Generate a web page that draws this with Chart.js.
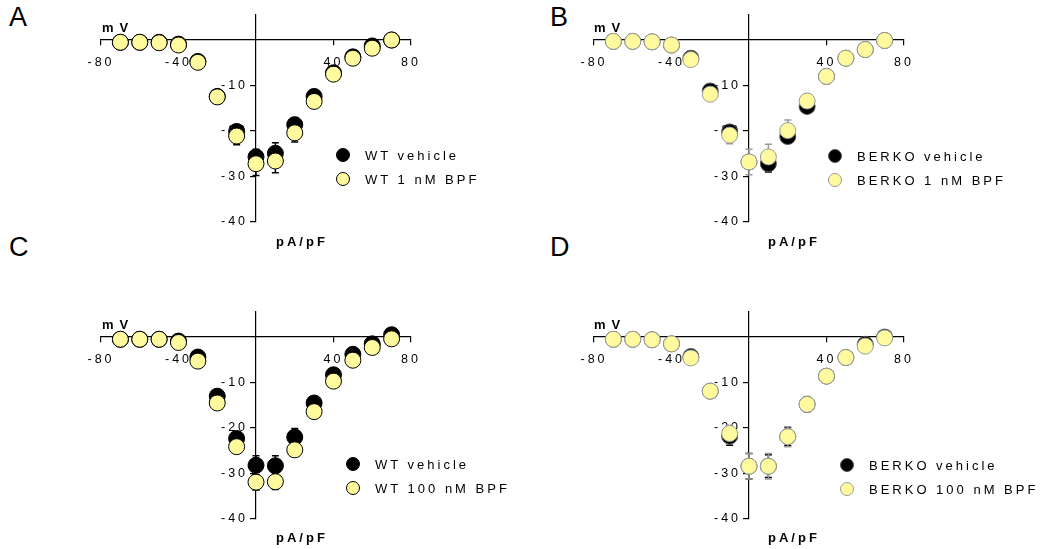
<!DOCTYPE html>
<html>
<head>
<meta charset="utf-8">
<script src="https://cdn.jsdelivr.net/npm/chart.js@4.4.1/dist/chart.umd.min.js"></script>
<style>
body { margin: 0; background: #fff; font-family: "Liberation Sans", Arial, sans-serif; }
#page { position: relative; width: 1054px; height: 549px; overflow: hidden; }
.panel { position: absolute; width: 527px; height: 274px; }
.letter { position: absolute; font-size: 27px; line-height: 1; }
.ttl { position: absolute; font-weight: bold; font-size: 13px; letter-spacing: 3px; line-height: 1; }
.ttl.mv { letter-spacing: 6px; }
.legend { position: absolute; font-size: 13px; letter-spacing: 3px; line-height: 1; }
.legend .row { height: 24px; display: flex; align-items: center; white-space: nowrap; }
.legend .dot { display: inline-block; width: 14px; height: 14px; border-radius: 50%; margin-right: 15px; box-sizing: border-box; }
</style>
</head>
<body>
<div id="page">
  <div class="letter" style="left:9px;top:4px">A</div>
  <div class="letter" style="left:550px;top:4px">B</div>
  <div class="letter" style="left:9px;top:234px">C</div>
  <div class="letter" style="left:550px;top:234px">D</div>

  <div class="panel" style="left:0;top:0"><canvas id="chartA" width="527" height="274"></canvas></div>
  <div class="panel" style="left:527px;top:0"><canvas id="chartB" width="527" height="274"></canvas></div>
  <div class="panel" style="left:0;top:275px"><canvas id="chartC" width="527" height="274"></canvas></div>
  <div class="panel" style="left:527px;top:275px"><canvas id="chartD" width="527" height="274"></canvas></div>

  <div class="ttl mv" style="left:102px;top:21px">mV</div>
  <div class="ttl" style="left:276px;top:235px">pA/pF</div>
  <div class="ttl mv" style="left:594px;top:21px">mV</div>
  <div class="ttl" style="left:768px;top:235px">pA/pF</div>
  <div class="ttl mv" style="left:102px;top:318px">mV</div>
  <div class="ttl" style="left:276px;top:531px">pA/pF</div>
  <div class="ttl mv" style="left:594px;top:318px">mV</div>
  <div class="ttl" style="left:768px;top:531px">pA/pF</div>

  <div class="legend" id="legA" style="left:336px;top:143px"></div>
  <div class="legend" id="legB" style="left:828px;top:144px"></div>
  <div class="legend" id="legC" style="left:346px;top:452px"></div>
  <div class="legend" id="legD" style="left:840px;top:453px"></div>
</div>

<script>
// test potentials (mV)
const voltage = [-70, -60, -50, -40, -30, -20, -10, 0, 10, 20, 30, 40, 50, 60, 70];
const xTicks = [-80, -40, 40, 80];
const yTicks = [-40, -30, -20, -10];

// A: WT, 1 nM BPF
const wtVehicleA = [-0.5, -0.5, -0.5, -0.9, -4.7, -12.4, -20.1, -25.7, -24.9, -18.6, -12.4, -7.2, -3.7, -1.3, 0];
const wtVehicleErrA = [0.2, 0.2, 0.2, 0.3, 0.5, 0.8, 1.4, 1.7, 2.3, 1.5, 0.8, 0.6, 0.4, 0.3, 0.2];
const wtBpf1 = [-0.5, -0.5, -0.6, -1.1, -4.9, -12.5, -21.1, -27.2, -26.6, -20.4, -13.5, -7.5, -4.0, -1.8, 0];
const wtBpf1Err = [0.2, 0.2, 0.2, 0.3, 0.5, 0.8, 1.9, 2.6, 2.6, 2.0, 0.8, 0.6, 0.4, 0.3, 0.2];

// B: BERKO, 1 nM BPF
const koVehicleB = [-0.3, -0.3, -0.4, -1.1, -4.0, -11.2, -20.2, -26.8, -27.2, -21.2, -14.6, -8.0, -4.0, -2.1, -0.1];
const koVehicleErrB = [0.2, 0.2, 0.2, 0.3, 0.4, 0.6, 1.0, 1.5, 1.8, 1.4, 1.0, 0.5, 0.3, 0.2, 0.2];
const koBpf1 = [-0.3, -0.3, -0.4, -1.1, -4.3, -11.9, -20.9, -26.8, -25.7, -19.9, -13.4, -8.0, -4.0, -2.1, -0.1];
const koBpf1Err = [0.2, 0.2, 0.2, 0.3, 0.4, 0.6, 1.9, 2.8, 2.8, 2.3, 1.6, 0.5, 0.3, 0.2, 0.2];

// C: WT, 100 nM BPF
const wtVehicleC = [-0.5, -0.5, -0.5, -0.9, -4.4, -13.0, -22.3, -28.2, -28.3, -22.0, -14.5, -8.3, -3.8, -1.5, 0.5];
const wtVehicleErrC = [0.2, 0.2, 0.2, 0.3, 0.5, 0.8, 1.2, 2.1, 2.2, 1.9, 0.8, 0.6, 0.4, 0.3, 0.2];
const wtBpf100 = [-0.5, -0.5, -0.5, -1.2, -5.3, -14.5, -24.1, -31.9, -31.8, -24.8, -16.4, -9.7, -5.1, -2.3, -0.4];
const wtBpf100Err = [0.2, 0.2, 0.2, 0.3, 0.5, 0.8, 1.2, 1.7, 1.7, 1.2, 0.8, 0.6, 0.4, 0.3, 0.2];

// D: BERKO, 100 nM BPF
const koVehicleD = [-0.5, -0.5, -0.6, -1.5, -4.3, -11.9, -21.8, -28.4, -28.4, -21.9, -14.8, -8.6, -4.5, -1.6, 0];
const koVehicleErrD = [0.2, 0.2, 0.2, 0.3, 0.4, 0.6, 2.0, 2.8, 2.5, 2.0, 1.5, 0.5, 0.3, 0.2, 0.2];
const koBpf100 = [-0.5, -0.5, -0.6, -1.5, -4.6, -11.9, -21.2, -28.4, -28.4, -21.9, -14.8, -8.6, -4.5, -2.0, -0.2];
const koBpf100Err = [0.2, 0.2, 0.2, 0.3, 0.4, 0.6, 1.8, 2.8, 2.8, 2.2, 1.7, 0.5, 0.3, 0.2, 0.2];

const labelsA = ["WT vehicle", "WT 1 nM BPF"];
const labelsB = ["BERKO vehicle", "BERKO 1 nM BPF"];
const labelsC = ["WT vehicle", "WT 100 nM BPF"];
const labelsD = ["BERKO vehicle", "BERKO 100 nM BPF"];

const YELLOW = "#fffa9e";
const GREY = "#9a9a9a";

Chart.defaults.font.family = '"Liberation Sans", Arial, sans-serif';
Chart.defaults.color = "#000";

// canvas letter spacing for the tick labels
const spacing = {
    id: "spacing",
    beforeDraw(chart) {
        chart.ctx.letterSpacing = "3px";
    }
};

// SEM bars, drawn under the markers
const errorBars = {
    id: "errorBars",
    beforeDatasetsDraw(chart) {
        const ctx = chart.ctx;
        const yScale = chart.scales.y;
        chart.data.datasets.forEach((ds, i) => {
            const meta = chart.getDatasetMeta(i);
            ctx.save();
            ctx.strokeStyle = ds.errorColor;
            ctx.lineWidth = 1.5;
            meta.data.forEach((pt, j) => {
                const v = ds.data[j].y;
                const e = ds.errors[j];
                const top = yScale.getPixelForValue(v + e);
                const bot = yScale.getPixelForValue(v - e);
                ctx.beginPath();
                ctx.moveTo(pt.x, top);
                ctx.lineTo(pt.x, bot);
                ctx.moveTo(pt.x - 3.5, top);
                ctx.lineTo(pt.x + 3.5, top);
                ctx.moveTo(pt.x - 3.5, bot);
                ctx.lineTo(pt.x + 3.5, bot);
                ctx.stroke();
            });
            ctx.restore();
        });
    }
};

function toPoints(values) {
    return values.map((v, k) => ({ x: voltage[k], y: v }));
}

function makePanel(canvasId, legendId, labels, vehicle, vehicleErr, bpf, bpfErr, edge, barGrey, padding) {
    const datasets = [
        {
            label: labels[0],
            data: toPoints(vehicle),
            errors: vehicleErr,
            errorColor: "#000",
            backgroundColor: "#000",
            borderColor: edge === "#000" ? "#000" : "#555",
            borderWidth: 1,
            pointRadius: 8,
            pointHoverRadius: 8,
            order: 1
        },
        {
            label: labels[1],
            data: toPoints(bpf),
            errors: bpfErr,
            errorColor: barGrey ? GREY : "#000",
            backgroundColor: YELLOW,
            borderColor: edge,
            borderWidth: 1,
            pointRadius: 8,
            pointHoverRadius: 8,
            order: 0
        }
    ];

    new Chart(document.getElementById(canvasId), {
        type: "scatter",
        data: { datasets: datasets },
        options: {
            responsive: false,
            animation: false,
            clip: false,
            layout: { padding: padding },
            plugins: {
                legend: { display: false },
                tooltip: { enabled: false }
            },
            scales: {
                x: {
                    type: "linear",
                    min: -80,
                    max: 80,
                    position: { y: 0 },
                    afterBuildTicks: (s) => { s.ticks = xTicks.map(v => ({ value: v })); },
                    grid: { drawOnChartArea: false, drawTicks: true, tickLength: 5, color: "#000", lineWidth: 1.2 },
                    border: { color: "#000", width: 1.2 },
                    ticks: { color: "#000", font: { size: 12.5 }, padding: 10, maxRotation: 0, autoSkip: false }
                },
                y: {
                    type: "linear",
                    min: -40,
                    max: 5.5,
                    position: { x: 0 },
                    afterBuildTicks: (s) => { s.ticks = yTicks.map(v => ({ value: v })); },
                    grid: { drawOnChartArea: false, drawTicks: true, tickLength: 5, color: "#000", lineWidth: 1.2 },
                    border: { color: "#000", width: 1.2 },
                    ticks: { display: false }
                },
                // label-only copy of the y axis, set a little left of x = 0
                yLabels: {
                    type: "linear",
                    axis: "y",
                    min: -40,
                    max: 5.5,
                    position: { x: -4.1 },
                    afterBuildTicks: (s) => { s.ticks = yTicks.map(v => ({ value: v })); },
                    grid: { display: false },
                    border: { display: false },
                    ticks: { color: "#000", font: { size: 12.5 }, autoSkip: false }
                }
            }
        },
        plugins: [spacing, errorBars]
    });

    // legend built from the dataset labels
    const leg = document.getElementById(legendId);
    datasets.forEach(ds => {
        const row = document.createElement("div");
        row.className = "row";
        const dot = document.createElement("span");
        dot.className = "dot";
        dot.style.background = ds.backgroundColor;
        dot.style.border = "1px solid " + ds.borderColor;
        row.appendChild(dot);
        row.appendChild(document.createTextNode(ds.label));
        leg.appendChild(row);
    });
}

makePanel("chartA", "legA", labelsA, wtVehicleA, wtVehicleErrA, wtBpf1, wtBpf1Err, "#000", false,
    { left: 101, right: 116, top: 15, bottom: 52 });
makePanel("chartB", "legB", labelsB, koVehicleB, koVehicleErrB, koBpf1, koBpf1Err, GREY, true,
    { left: 67, right: 150, top: 15, bottom: 52 });
makePanel("chartC", "legC", labelsC, wtVehicleC, wtVehicleErrC, wtBpf100, wtBpf100Err, "#000", false,
    { left: 101, right: 116, top: 37, bottom: 30 });
makePanel("chartD", "legD", labelsD, koVehicleD, koVehicleErrD, koBpf100, koBpf100Err, GREY, true,
    { left: 67, right: 150, top: 37, bottom: 30 });
</script>
</body>
</html>
